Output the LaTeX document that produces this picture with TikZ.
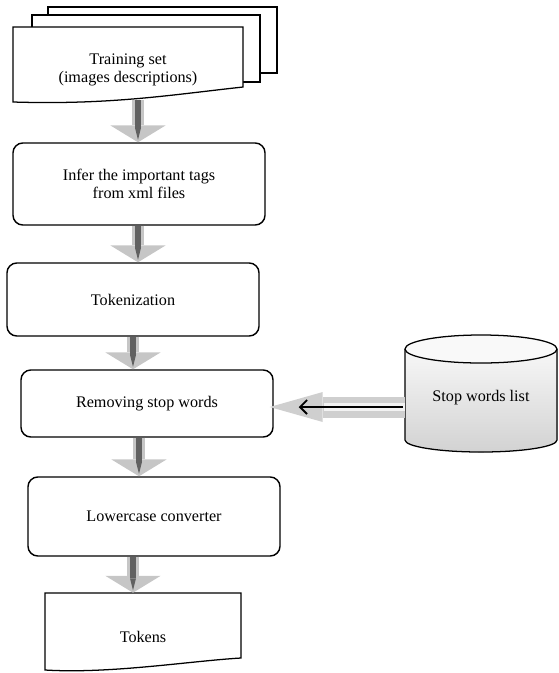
\documentclass[tikz,border=0pt]{standalone}
\usepackage{fontspec}
\setmainfont{Liberation Serif}
\usetikzlibrary{calc}
\usetikzlibrary{arrows.meta}

\begin{document}
\begin{tikzpicture}[x=0.025cm,y=-0.025cm,
	every node/.style={font=\fontsize{11.5}{13}\selectfont, align=center},
	procbox/.style={draw, line width=1pt, rounded corners=7pt, minimum width=6.3cm},
	sheet/.style={draw, line width=0.9pt, fill=white},
	fatarrow/.style={draw=gray!45, line width=0.3cm, -{Triangle[width=1.375cm,length=0.42cm,line width=0pt]},
		postaction={draw=black!62, line width=0.15cm, -{Triangle[width=0.15cm,length=0.3cm,line width=0pt]}, shorten >=0.06cm}},
	sidearrow/.style={draw=gray!38, line width=0.525cm, -{Triangle[width=0.75cm,length=1.325cm,line width=0pt]}, shorten >=-0.1cm,
		postaction={draw=gray!10, line width=0.2cm, -, shorten >=1.25cm}}]
\useasboundingbox (0,0) rectangle (559,673);
\coordinate (ar1) at (138,0);
\coordinate (ar2) at (138,0);
\coordinate (ar3) at (133,0);
\coordinate (ar4) at (139,0);
\coordinate (ar5) at (133,0);
% pile de documents
\draw[sheet] (48,7) rectangle (277,73);
\draw[sheet] (32,15) rectangle (260,82);
\draw[sheet] (13,27) -- (243,27) -- (243,87) .. controls (170,95) and (110,105) .. (13,102) -- cycle;
\node[minimum width=5.75cm, minimum height=1.5cm] (train) at (128,70) {Training set\\(images descriptions)};
\node[procbox, minimum height=2.05cm] (infer) at (139,184) {Infer the important tags\\from xml files};
\node[procbox, minimum height=1.825cm] (token) at (133,299.5) {Tokenization};
\node[procbox, minimum height=1.675cm] (remove) at (147,403.5) {Removing stop words};
\node[procbox, minimum height=1.975cm] (lower) at (154,516.5) {Lowercase converter};
\draw[sheet] (45,593) -- (241,593) -- (241,658) .. controls (190,661) and (110,674) .. (45,670) -- cycle;
\node[minimum width=4.9cm, minimum height=2.2cm] (tokens) at (143,637) {Tokens};
% cylindre
\fill[top color=gray!6, bottom color=gray!35] (405,349) -- (405,440) arc[start angle=180,end angle=360,x radius=1.9cm,y radius=0.3cm] -- (557,349) -- cycle;
\draw[line width=0.9pt] (405,349) -- (405,440) arc[start angle=180,end angle=360,x radius=1.9cm,y radius=0.3cm] -- (557,349);
\draw[line width=0.9pt, fill=gray!5] (481,349) ellipse[x radius=1.9cm, y radius=0.35cm];
\node[minimum width=3.8cm] (stop) at (481,398) {Stop words list};
\draw[fatarrow] (train.south -| ar1) -- (infer.north -| ar1);
\draw[fatarrow] (infer.south -| ar2) -- (token.north -| ar2);
\draw[fatarrow] (token.south -| ar3) -- (remove.north -| ar3);
\draw[fatarrow] (remove.south -| ar4) -- (lower.north -| ar4);
\draw[fatarrow] (lower.south -| ar5) -- (tokens.north -| ar5);
\coordinate (sa) at ([yshift=-0.225cm]stop.west);
\draw[sidearrow] (sa) -- (sa -| remove.east);
\draw[line width=1.3pt, -{Straight Barb[length=5pt,width=10pt]}, shorten >=0.625cm, shorten <=0.05cm] (sa) -- (sa -| remove.east);
\end{tikzpicture}
\end{document}
